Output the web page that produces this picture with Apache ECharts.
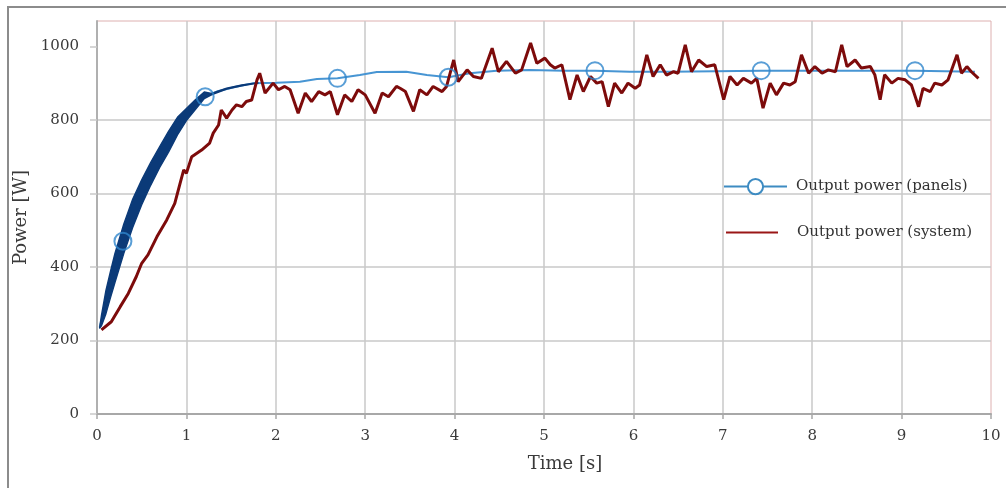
<!DOCTYPE html>
<html>
<head>
<meta charset="utf-8">
<script src="https://cdn.jsdelivr.net/npm/echarts@6/dist/echarts.min.js"></script>
<style>
  html, body { margin: 0; padding: 0; background: #ffffff; }
  #chart { width: 1006px; height: 488px; }
</style>
</head>
<body>
<div id="chart"></div>
<script>
// Tick labels
const timeTicks = [0, 1, 2, 3, 4, 5, 6, 7, 8, 9, 10];
const powerTicks = [0, 200, 400, 600, 800, 1000];

// Output power of the whole system [W] over time [s]
const systemT = [
  0.05, 0.16, 0.26, 0.35, 0.44, 0.50, 0.57, 0.67, 0.78, 0.87,
  0.93, 0.97, 1.00, 1.06, 1.17, 1.26, 1.30, 1.36, 1.39, 1.45,
  1.51, 1.56, 1.62, 1.67, 1.73, 1.79, 1.82, 1.88, 1.97, 2.03,
  2.10, 2.16, 2.25, 2.33, 2.40, 2.48, 2.55, 2.61, 2.69, 2.77,
  2.85, 2.92, 3.00, 3.11, 3.19, 3.26, 3.35, 3.39, 3.45, 3.54,
  3.61, 3.69, 3.76, 3.86, 3.91, 3.99, 4.04, 4.14, 4.21, 4.30,
  4.42, 4.49, 4.58, 4.68, 4.75, 4.85, 4.92, 5.01, 5.07, 5.12,
  5.20, 5.29, 5.37, 5.44, 5.52, 5.59, 5.65, 5.72, 5.79, 5.87,
  5.94, 6.02, 6.07, 6.15, 6.22, 6.30, 6.37, 6.45, 6.50, 6.58,
  6.65, 6.73, 6.82, 6.91, 7.01, 7.08, 7.16, 7.23, 7.32, 7.38,
  7.45, 7.53, 7.60, 7.68, 7.75, 7.81, 7.88, 7.96, 8.03, 8.11,
  8.18, 8.26, 8.33, 8.39, 8.48, 8.55, 8.65, 8.70, 8.76, 8.81,
  8.89, 8.96, 9.04, 9.11, 9.19, 9.24, 9.32, 9.37, 9.45, 9.52,
  9.62, 9.67, 9.73, 9.78, 9.86
];
const systemP = [
  229, 251, 292, 328, 374, 410, 433, 482, 528, 573,
  628, 664, 655, 700, 718, 737, 764, 786, 827, 805,
  827, 841, 836, 850, 854, 909, 927, 873, 900, 882,
  891, 882, 818, 873, 850, 877, 868, 877, 814, 868,
  850, 882, 868, 818, 873, 863, 891, 886, 877, 823,
  882, 868, 891, 877, 891, 963, 904, 936, 918, 913,
  995, 931, 959, 927, 936, 1009, 954, 968, 950, 941,
  950, 855, 922, 877, 918, 900, 904, 836, 900, 873,
  900, 886, 895, 977, 918, 950, 922, 931, 927, 1004,
  931, 963, 945, 950, 855, 918, 895, 913, 900, 913,
  832, 900, 868, 900, 895, 904, 977, 927, 945, 927,
  936, 931, 1004, 945, 963, 941, 945, 923, 855, 923,
  900, 913, 909, 895, 836, 886, 877, 900, 895, 909,
  977, 927, 945, 931, 913
];

// Output power of the panels [W] over time [s]
const panelsT = [
  0.03, 0.10, 0.20, 0.29, 0.40, 0.50, 0.60, 0.70, 0.80, 0.90,
  1.00, 1.10, 1.21, 1.34, 1.53, 1.75, 2.01, 2.27, 2.46, 2.69,
  2.94, 3.13, 3.46, 3.69, 3.93, 4.17, 4.47, 4.84, 5.22, 5.57,
  5.96, 6.41, 7.43, 8.30, 9.15, 9.82
];
const panelsP = [
  235, 304, 396, 470, 546, 603, 653, 698, 740, 783,
  814, 841, 863, 877, 889, 900, 901, 904, 911, 913,
  922, 930, 931, 922, 916, 927, 934, 936, 934, 934,
  931, 931, 934, 934, 934, 931
];
// Points of the panels curve that carry a circle marker
const markerIdx = [3, 12, 19, 24, 29, 32, 34];

// Ripple envelope of the panels output during the start-up
const bandT = [0.03, 0.05, 0.10, 0.15, 0.20, 0.30, 0.40, 0.50, 0.60, 0.70,
               0.80, 0.90, 1.00, 1.10, 1.20, 1.28, 1.45, 1.62, 1.80];
const bandLow = [234, 240, 273, 316, 357, 437, 508, 569, 622, 670,
                 712, 759, 798, 828, 858, 868, 884, 893, 900];
const bandHigh = [236, 268, 336, 387, 436, 517, 585, 637, 684, 727,
                  769, 807, 831, 855, 876, 872, 886, 895, 901];

const FONT = 'DejaVu Serif';
const TEXT = '#3a3a3a';
const GRID = '#c9c9c9';
const NAVY = '#0b3a78';

// Filled envelope: upper edge forward, lower edge backward, one polygon
function renderBand(params, api) {
  if (params.dataIndex !== 0) return null;
  const pts = [];
  for (let i = 0; i < bandT.length; i++) pts.push(api.coord([bandT[i], bandHigh[i]]));
  for (let i = bandT.length - 1; i >= 0; i--) pts.push(api.coord([bandT[i], bandLow[i]]));
  return {
    type: 'polygon',
    shape: { points: pts },
    style: { fill: NAVY, stroke: NAVY, lineWidth: 1.4, lineJoin: 'round' }
  };
}

const chart = echarts.init(document.getElementById('chart'), null, { renderer: 'canvas' });

chart.setOption({
  animation: false,
  backgroundColor: '#ffffff',
  grid: {
    left: 97, right: 15, top: 21, bottom: 74,
    show: true, borderColor: '#ddb0b0', borderWidth: 1, backgroundColor: 'transparent'
  },
  xAxis: {
    type: 'value', min: 0, max: 10, interval: 1,
    name: 'Time [s]', nameLocation: 'middle', nameGap: 41,
    nameTextStyle: { fontFamily: FONT, fontSize: 18, color: TEXT, padding: [0, 0, 0, 42] },
    axisLine: { show: true, lineStyle: { color: '#a8a8a8', width: 2 } },
    axisTick: { show: true, length: 5, lineStyle: { color: '#a8a8a8', width: 1.5 } },
    axisLabel: {
      fontFamily: FONT, fontSize: 15, color: TEXT, margin: 15,
      formatter: v => (timeTicks.indexOf(v) >= 0 ? String(v) : '')
    },
    splitLine: { show: true, showMaxLine: false, lineStyle: { color: GRID, width: 1.5 } }
  },
  yAxis: {
    type: 'value', min: 0, max: 1069, interval: 200,
    name: 'Power [W]', nameLocation: 'middle', nameGap: 62,
    nameTextStyle: { fontFamily: FONT, fontSize: 18, color: TEXT },
    axisLine: { show: true, lineStyle: { color: '#b0b0b0', width: 2 } },
    axisTick: { show: true, length: 7, lineStyle: { color: GRID, width: 1.5 } },
    axisLabel: {
      fontFamily: FONT, fontSize: 15, color: TEXT, margin: 18, showMaxLabel: false,
      formatter: v => (powerTicks.indexOf(v) >= 0 ? String(v) : '')
    },
    splitLine: {
      show: true, showMaxLine: false,
      lineStyle: { color: [GRID, GRID, GRID, GRID, GRID, 'rgba(0,0,0,0)'], width: 1.5 }
    }
  },
  legend: [
    {
      data: [{ name: 'Output power (panels)' }],
      left: 718, top: 173, orient: 'vertical',
      itemWidth: 63, itemHeight: 19,
      textStyle: { fontFamily: FONT, fontSize: 15, color: '#333333', padding: [0, 0, 0, 4] },
      lineStyle: { width: 2, color: '#3d8bc2' },
      itemStyle: { color: '#3d8bc2' }
    },
    {
      data: [{ name: 'Output power (system)', icon: 'rect' }],
      left: 721, top: 220, orient: 'vertical',
      itemWidth: 52, itemHeight: 2,
      textStyle: { fontFamily: FONT, fontSize: 15, color: '#333333', padding: [0, 0, 0, 14] },
      itemStyle: { color: '#9a1616' }
    }
  ],
  graphic: [
    { type: 'line', silent: true, shape: { x1: 7, y1: 7, x2: 1006, y2: 7 },
      style: { stroke: '#8c8c8c', lineWidth: 2 } },
    { type: 'line', silent: true, shape: { x1: 8, y1: 7, x2: 8, y2: 488 },
      style: { stroke: '#8c8c8c', lineWidth: 2 } }
  ],
  series: [
    {
      name: 'Output power (panels)',
      type: 'line', z: 2, silent: true,
      data: panelsT.map((t, i) => [t, panelsP[i]]),
      showSymbol: false, symbol: 'emptyCircle', symbolSize: 17,
      lineStyle: { color: '#4795d3', width: 2 },
      itemStyle: { color: '#3d8bc2' }
    },
    {
      name: 'ripple band',
      type: 'custom', z: 3, silent: true,
      data: bandT.map((t, i) => [t, bandLow[i], bandHigh[i]]),
      encode: { x: 0, y: [1, 2] },
      renderItem: renderBand
    },
    {
      name: 'Output power (system)',
      type: 'line', z: 4, silent: true,
      data: systemT.map((t, i) => [t, systemP[i]]),
      symbol: 'none',
      lineStyle: { color: '#7d0b0b', width: 3 },
      itemStyle: { color: '#9a1616' }
    },
    {
      name: 'panel markers',
      type: 'scatter', z: 5, silent: true,
      data: markerIdx.map(i => [panelsT[i], panelsP[i]]),
      symbol: 'circle', symbolSize: 17,
      itemStyle: { color: 'rgba(0,0,0,0)', borderColor: '#2f86cc', borderWidth: 2 }
    }
  ]
});
</script>
</body>
</html>
